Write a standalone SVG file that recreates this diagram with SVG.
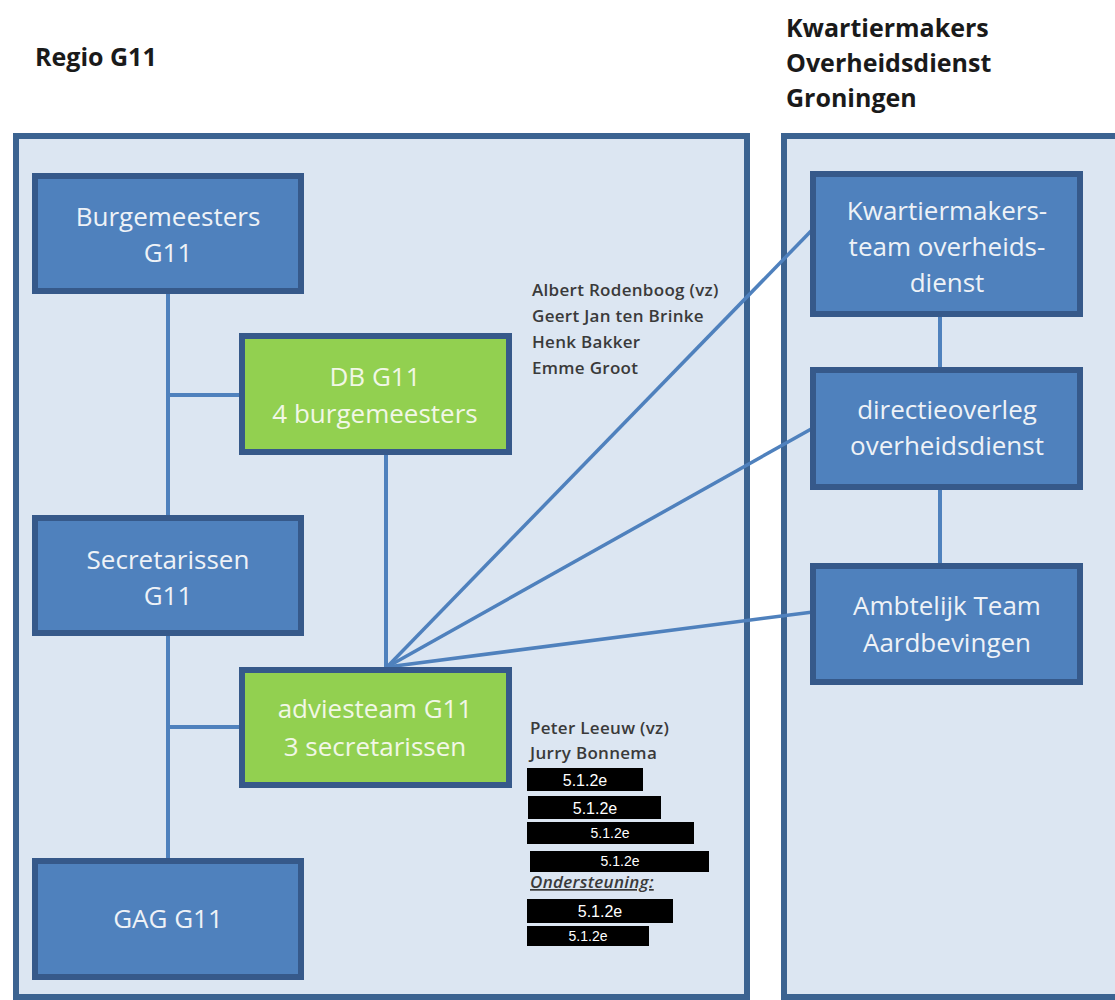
<svg xmlns="http://www.w3.org/2000/svg" width="1115" height="1000" viewBox="0 0 1115 1000">
<style>
.panel{fill:#dce6f2;stroke:#3b6391;stroke-width:6}
.box{fill:#4f81bd;stroke:#36598a;stroke-width:6}
.gbox{fill:#92d050;stroke:#36598a;stroke-width:6}
.bt{font-family:"Open Sans","Liberation Sans",sans-serif;font-size:26px;fill:#eef2f7;text-anchor:middle}
.gt{font-family:"Open Sans","Liberation Sans",sans-serif;font-size:26px;fill:#f1f7e6;text-anchor:middle}
.title{font-family:"Open Sans","Liberation Sans",sans-serif;font-size:25px;font-weight:bold;fill:#1a1a1a}
.name{font-family:"Open Sans","Liberation Sans",sans-serif;font-size:17px;font-weight:600;letter-spacing:0.3px;fill:#3a3a3a}
.red{fill:#000}
.rt{font-family:"Liberation Sans",Arial,sans-serif;fill:#fff;text-anchor:middle}
.con{stroke:#4f81bd;stroke-width:4;fill:none}
.diag{stroke:#4f81bd;stroke-width:3.5;fill:none}
</style>
<rect width="1115" height="1000" fill="#fff"/>
<text class="title" x="35" y="66">Regio G11</text>
<text class="title" x="786" y="37">Kwartiermakers</text>
<text class="title" x="786" y="72">Overheidsdienst</text>
<text class="title" x="786" y="107">Groningen</text>
<rect class="panel" x="16" y="136" width="731" height="861"/>
<rect class="panel" x="784" y="136" width="340" height="861"/>
<g id="connectors">
<line class="con" x1="168" y1="291" x2="168" y2="518"/>
<line class="con" x1="168" y1="633" x2="168" y2="861"/>
<line class="con" x1="168" y1="395" x2="242" y2="395"/>
<line class="con" x1="168" y1="727" x2="242" y2="727"/>
<line class="con" x1="386" y1="452" x2="386" y2="667"/>
<line class="diag" x1="387" y1="667" x2="813" y2="229"/>
<line class="diag" x1="387" y1="667" x2="813" y2="428"/>
<line class="diag" x1="387" y1="667" x2="813" y2="612"/>
<line class="con" x1="940" y1="314" x2="940" y2="370"/>
<line class="con" x1="940" y1="487" x2="940" y2="566"/>
</g>
<g id="burgemeesters">
<rect class="box" x="35" y="176" width="266" height="115"/>
<text class="bt" x="168" y="226">Burgemeesters</text>
<text class="bt" x="168" y="262">G11</text>
</g>
<g id="db">
<rect class="gbox" x="242" y="336" width="267" height="116"/>
<text class="gt" x="375" y="386">DB G11</text>
<text class="gt" x="375" y="423">4 burgemeesters</text>
</g>
<g id="secretarissen">
<rect class="box" x="35" y="518" width="266" height="115"/>
<text class="bt" x="168" y="569">Secretarissen</text>
<text class="bt" x="168" y="605">G11</text>
</g>
<g id="adviesteam">
<rect class="gbox" x="242" y="670" width="267" height="115"/>
<text class="gt" x="375" y="718">adviesteam G11</text>
<text class="gt" x="375" y="756">3 secretarissen</text>
</g>
<g id="gag">
<rect class="box" x="35" y="861" width="266" height="116"/>
<text class="bt" x="168" y="928">GAG G11</text>
</g>
<g id="kwartiermakersteam">
<rect class="box" x="813" y="174" width="267" height="140"/>
<text class="bt" x="947" y="220">Kwartiermakers-</text>
<text class="bt" x="947" y="256">team overheids-</text>
<text class="bt" x="947" y="292">dienst</text>
</g>
<g id="directieoverleg">
<rect class="box" x="813" y="370" width="267" height="117"/>
<text class="bt" x="947" y="419">directieoverleg</text>
<text class="bt" x="947" y="455">overheidsdienst</text>
</g>
<g id="ambtelijk">
<rect class="box" x="813" y="566" width="267" height="116"/>
<text class="bt" x="947" y="615">Ambtelijk Team</text>
<text class="bt" x="947" y="652">Aardbevingen</text>
</g>
<g id="db-members">
<text class="name" x="532" y="296">Albert Rodenboog (vz)</text>
<text class="name" x="532" y="322">Geert Jan ten Brinke</text>
<text class="name" x="532" y="348">Henk Bakker</text>
<text class="name" x="532" y="374">Emme Groot</text>
</g>
<g id="advies-members">
<text class="name" x="530" y="734">Peter Leeuw (vz)</text>
<text class="name" x="530" y="759">Jurry Bonnema</text>
<rect class="red" x="527" y="768" width="116" height="23"/>
<text class="rt" x="585" y="786" font-size="16">5.1.2e</text>
<rect class="red" x="528" y="796" width="133" height="23"/>
<text class="rt" x="595" y="814" font-size="16">5.1.2e</text>
<rect class="red" x="527" y="822" width="167" height="22"/>
<text class="rt" x="610" y="838" font-size="14">5.1.2e</text>
<rect class="red" x="530" y="851" width="179" height="21"/>
<text class="rt" x="620" y="866" font-size="14">5.1.2e</text>
<text class="name" x="530" y="888" font-style="italic" text-decoration="underline">Ondersteuning:</text>
<rect class="red" x="527" y="899" width="146" height="24"/>
<text class="rt" x="600" y="917" font-size="16">5.1.2e</text>
<rect class="red" x="527" y="926" width="122" height="20"/>
<text class="rt" x="588" y="941" font-size="14">5.1.2e</text>
</g>
</svg>
